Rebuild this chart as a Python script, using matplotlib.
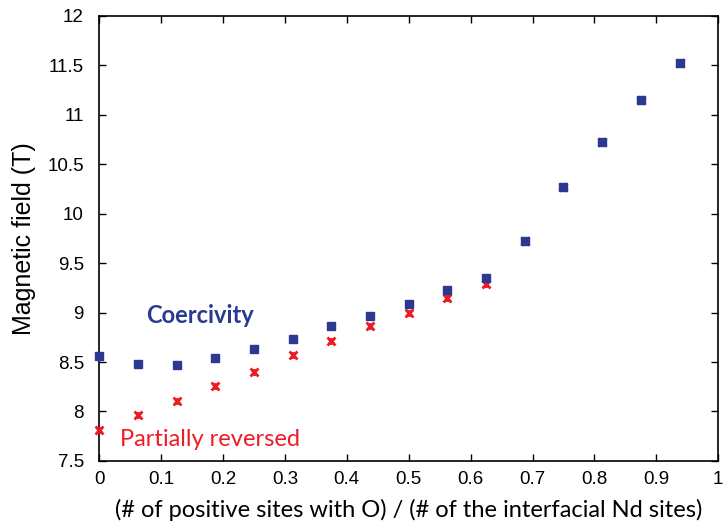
import numpy as np
import matplotlib
matplotlib.use('Agg')
import matplotlib.pyplot as plt

# fraction of positive sites with O
frac = [0, 0.0625, 0.125, 0.1875, 0.25, 0.3125, 0.375, 0.4375,
        0.5, 0.5625, 0.625, 0.6875, 0.75, 0.8125, 0.875, 0.9375]
coercivity = [8.56, 8.48, 8.47, 8.54, 8.63, 8.73, 8.86, 8.97,
              9.09, 9.23, 9.35, 9.72, 10.27, 10.72, 11.15, 11.52]
partial = [7.81, 7.96, 8.11, 8.26, 8.40, 8.57, 8.71, 8.86,
           9.00, 9.15, 9.29, 9.72, 10.27, 10.72, 11.15, 11.52]
err = [0.02] * len(frac)

xticks = [0, 0.1, 0.2, 0.3, 0.4, 0.5, 0.6, 0.7, 0.8, 0.9, 1]
yticks = [7.5, 8, 8.5, 9, 9.5, 10, 10.5, 11, 11.5, 12]

blue = '#2b3990'
red = '#ed1c24'

fig = plt.figure(figsize=(7.24, 5.28), dpi=100)
ax = fig.add_axes([0.137, 0.127, 0.855, 0.843])

ax.errorbar(frac, partial, yerr=err, fmt='x', color=red, ms=6, mew=2,
            capsize=2.5, elinewidth=1, capthick=1, clip_on=False, zorder=3)
ax.errorbar(frac, coercivity, yerr=err, fmt='s', color=blue, ms=5.5,
            capsize=3, elinewidth=1, capthick=1, clip_on=False, zorder=4)

ax.set_xlim(0, 1)
ax.set_ylim(7.5, 12)
ax.set_xticks(xticks)
ax.set_xticklabels([f'{t:g}' for t in xticks], family='Liberation Sans', fontsize=13.5)
ax.set_yticks(yticks)
ax.set_yticklabels([f'{t:g}' for t in yticks], family='Liberation Sans', fontsize=13.5)
ax.tick_params(direction='in', length=5, width=1, top=True, right=True)
ax.tick_params(axis='x', pad=7)
ax.tick_params(axis='y', pad=11)
for s in ax.spines.values():
    s.set_linewidth(1.2)

ax.set_ylabel('Magnetic field (T)', family='Liberation Sans', fontsize=18, labelpad=8)
ax.set_xlabel('(# of positive sites with O) / (# of the interfacial Nd sites)',
              family='Lato', fontsize=17, labelpad=8)

ax.text(0.163, 8.97, 'Coercivity', color=blue, family='Lato', fontweight='bold',
        fontsize=17, ha='center', va='center')
ax.text(0.179, 7.72, 'Partially reversed', color=red, family='Lato',
        fontsize=17, ha='center', va='center')

fig.savefig('out.png', dpi=100)
